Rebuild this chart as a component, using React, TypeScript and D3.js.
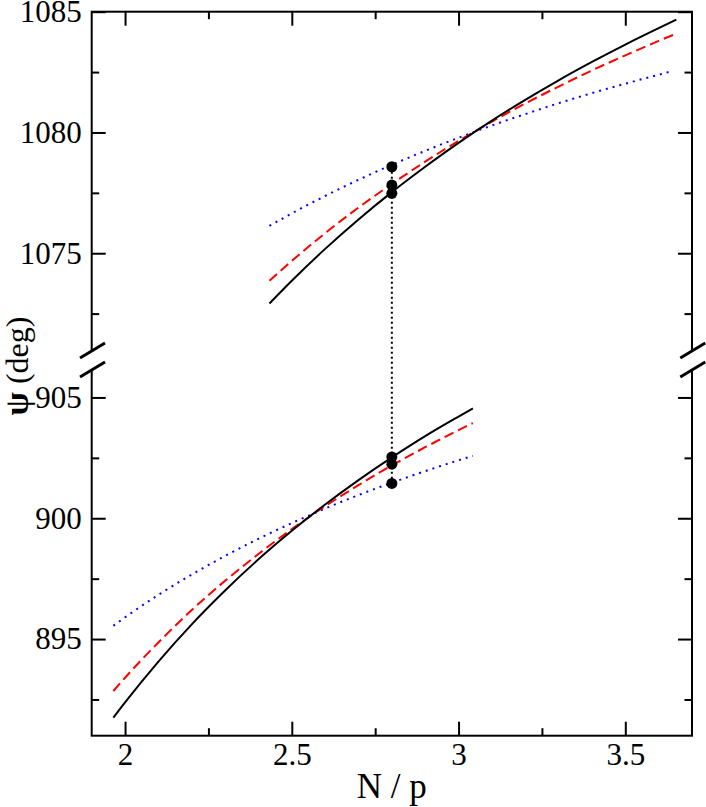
import { useEffect, useRef } from 'react';
import * as d3 from 'd3';

// upper branch (psi ~ 1073..1085)
const xUpper = [2.433, 2.5, 2.6, 2.7, 2.8, 2.9, 3.0, 3.1, 3.2, 3.3, 3.4, 3.5, 3.6, 3.653];
const xUpperBlue = [2.433, 2.5, 2.6, 2.7, 2.8, 2.9, 3.0, 3.1, 3.2, 3.3, 3.4, 3.5, 3.6, 3.643];
const blackUpper = [1072.92, 1073.86, 1075.18, 1076.40, 1077.53, 1078.58, 1079.57, 1080.49, 1081.35, 1082.16, 1082.92, 1083.64, 1084.32, 1084.67];
const redUpper = [1073.86, 1074.68, 1075.83, 1076.89, 1077.87, 1078.79, 1079.65, 1080.45, 1081.20, 1081.90, 1082.57, 1083.19, 1083.79, 1084.09];
const blueUpper = [1076.13, 1076.65, 1077.37, 1078.04, 1078.66, 1079.24, 1079.78, 1080.29, 1080.76, 1081.21, 1081.63, 1082.02, 1082.39, 1082.55];

// lower branch (psi ~ 891..905)
const xLower = [1.965, 2.0, 2.1, 2.2, 2.3, 2.4, 2.5, 2.6, 2.7, 2.8, 2.9, 3.0, 3.043];
const blackLower = [891.75, 892.38, 894.07, 895.61, 897.01, 898.30, 899.48, 900.57, 901.58, 902.52, 903.40, 904.21, 904.55];
const redLower = [892.85, 893.40, 894.86, 896.20, 897.41, 898.52, 899.55, 900.50, 901.37, 902.19, 902.94, 903.65, 903.94];
const blueLower = [895.55, 895.90, 896.83, 897.67, 898.44, 899.15, 899.80, 900.40, 900.96, 901.47, 901.95, 902.40, 902.58];

// points at N/p = 2.8
const xPoint = 2.8;
const upperPoints = [1078.58, 1077.82, 1077.48];
const lowerPoints = [902.54, 902.24, 901.44];

const xMajor = [2, 2.5, 3, 3.5];
const xMinor = [2.25, 2.75, 3.25];
const yUpperMajor = [1075, 1080, 1085];
const yUpperMinor = [1072.5, 1077.5, 1082.5];
const yLowerMajor = [895, 900, 905];
const yLowerMinor = [892.5, 897.5, 902.5];

const W = 706;
const H = 807;
const FONT = "'Liberation Serif', 'Times New Roman', serif";

export default function App() {
  const svgRef = useRef<SVGSVGElement>(null);

  useEffect(() => {
    document.body.style.margin = '0';
    const svg = d3.select(svgRef.current);
    svg.selectAll('*').remove();

    const left = 91.7, right = 692, top = 11.7, bottom = 735.7, breakY = 360;

    const x = d3.scaleLinear().domain([1.9, 3.7]).range([left, right]);
    const yTop = d3.scaleLinear().domain([1070.6, 1085]).range([359.5, top]);
    const yBot = d3.scaleLinear().domain([891, 906.55]).range([bottom, breakY]);

    const styleAxis = (g: any, labels: boolean) => {
      g.select('.domain').remove();
      g.selectAll('.tick line').attr('stroke', '#000').attr('stroke-width', 2);
      g.attr('font-family', null).attr('font-size', null);
      if (!labels) g.selectAll('.tick text').remove();
      else g.selectAll('.tick text')
        .attr('fill', '#000')
        .style('font-family', FONT)
        .style('font-size', '31px');
    };

    // x axes
    svg.append('g').attr('transform', `translate(0,${bottom})`)
      .call(d3.axisBottom(x).tickValues(xMajor).tickSize(-14).tickSizeOuter(0).tickPadding(7).tickFormat(d3.format('')))
      .call((g: any) => styleAxis(g, true));
    svg.append('g').attr('transform', `translate(0,${bottom})`)
      .call(d3.axisBottom(x).tickValues(xMinor).tickSize(-7.5).tickSizeOuter(0))
      .call((g: any) => styleAxis(g, false));
    svg.append('g').attr('transform', `translate(0,${top})`)
      .call(d3.axisTop(x).tickValues(xMajor).tickSize(-14).tickSizeOuter(0))
      .call((g: any) => styleAxis(g, false));
    svg.append('g').attr('transform', `translate(0,${top})`)
      .call(d3.axisTop(x).tickValues(xMinor).tickSize(-7.5).tickSizeOuter(0))
      .call((g: any) => styleAxis(g, false));

    // y axes, both panels, both sides
    const panels = [
      { y: yTop, major: yUpperMajor, minor: yUpperMinor },
      { y: yBot, major: yLowerMajor, minor: yLowerMinor },
    ];
    panels.forEach(p => {
      svg.append('g').attr('transform', `translate(${left},0)`)
        .call(d3.axisLeft(p.y).tickValues(p.major).tickSize(-14).tickSizeOuter(0).tickPadding(10).tickFormat(d3.format('')))
        .call((g: any) => styleAxis(g, true));
      svg.append('g').attr('transform', `translate(${left},0)`)
        .call(d3.axisLeft(p.y).tickValues(p.minor).tickSize(-7.5).tickSizeOuter(0))
        .call((g: any) => styleAxis(g, false));
      svg.append('g').attr('transform', `translate(${right},0)`)
        .call(d3.axisRight(p.y).tickValues(p.major).tickSize(-14).tickSizeOuter(0))
        .call((g: any) => styleAxis(g, false));
      svg.append('g').attr('transform', `translate(${right},0)`)
        .call(d3.axisRight(p.y).tickValues(p.minor).tickSize(-7.5).tickSizeOuter(0))
        .call((g: any) => styleAxis(g, false));
    });

    // frame
    svg.append('rect')
      .attr('x', left).attr('y', top)
      .attr('width', right - left).attr('height', bottom - top)
      .attr('fill', 'none').attr('stroke', '#000').attr('stroke-width', 2);

    // axis break marks
    [left, right].forEach(ax => {
      const x0 = ax - 11.7, x1 = ax + 13.3;
      svg.append('polygon')
        .attr('points', `${x0},${breakY - 2} ${x1},${breakY - 17} ${x1},${breakY + 2} ${x0},${breakY + 17}`)
        .attr('fill', '#fff');
      [[breakY - 2, breakY - 17], [breakY + 17, breakY + 2]].forEach(([ya, yb]) => {
        svg.append('line')
          .attr('x1', x0).attr('y1', ya).attr('x2', x1).attr('y2', yb)
          .attr('stroke', '#000').attr('stroke-width', 3);
      });
    });

    // curves
    const series = [
      { xs: xUpperBlue, ys: blueUpper, y: yTop, color: '#0000ff', dash: '2,5' },
      { xs: xUpper, ys: redUpper, y: yTop, color: '#ff0000', dash: '10,5' },
      { xs: xUpper, ys: blackUpper, y: yTop, color: '#000', dash: null },
      { xs: xLower, ys: blueLower, y: yBot, color: '#0000ff', dash: '2,5' },
      { xs: xLower, ys: redLower, y: yBot, color: '#ff0000', dash: '10,5' },
      { xs: xLower, ys: blackLower, y: yBot, color: '#000', dash: null },
    ];
    series.forEach(s => {
      const line = d3.line<number>()
        .x((_, i) => x(s.xs[i]))
        .y(d => s.y(d))
        .curve(d3.curveMonotoneX);
      svg.append('path')
        .attr('d', line(s.ys))
        .attr('fill', 'none')
        .attr('stroke', s.color)
        .attr('stroke-width', 2)
        .attr('stroke-dasharray', s.dash);
    });

    // dotted connector between branches
    svg.append('line')
      .attr('x1', x(xPoint)).attr('x2', x(xPoint))
      .attr('y1', yTop(upperPoints[0])).attr('y2', yBot(lowerPoints[2]))
      .attr('stroke', '#000').attr('stroke-width', 2).attr('stroke-dasharray', '2,3');

    upperPoints.forEach(v => {
      svg.append('circle').attr('cx', x(xPoint)).attr('cy', yTop(v)).attr('r', 5.5).attr('fill', '#000');
    });
    lowerPoints.forEach(v => {
      svg.append('circle').attr('cx', x(xPoint)).attr('cy', yBot(v)).attr('r', 5.5).attr('fill', '#000');
    });

    // axis titles
    svg.append('text')
      .attr('x', (left + right) / 2).attr('y', 798)
      .attr('text-anchor', 'middle')
      .style('font-family', FONT).style('font-size', '35px')
      .text('N / p');

    const yTitle = svg.append('text')
      .attr('transform', `translate(28,${366}) rotate(-90)`)
      .attr('text-anchor', 'middle')
      .style('font-family', FONT).style('font-size', '32px');
    yTitle.append('tspan').attr('font-weight', 'bold').style('font-size', '34px').text('ψ');
    yTitle.append('tspan').text(' (deg)');
  }, []);

  return <svg ref={svgRef} width={W} height={H} style={{ display: 'block', background: '#fff' }} />;
}
